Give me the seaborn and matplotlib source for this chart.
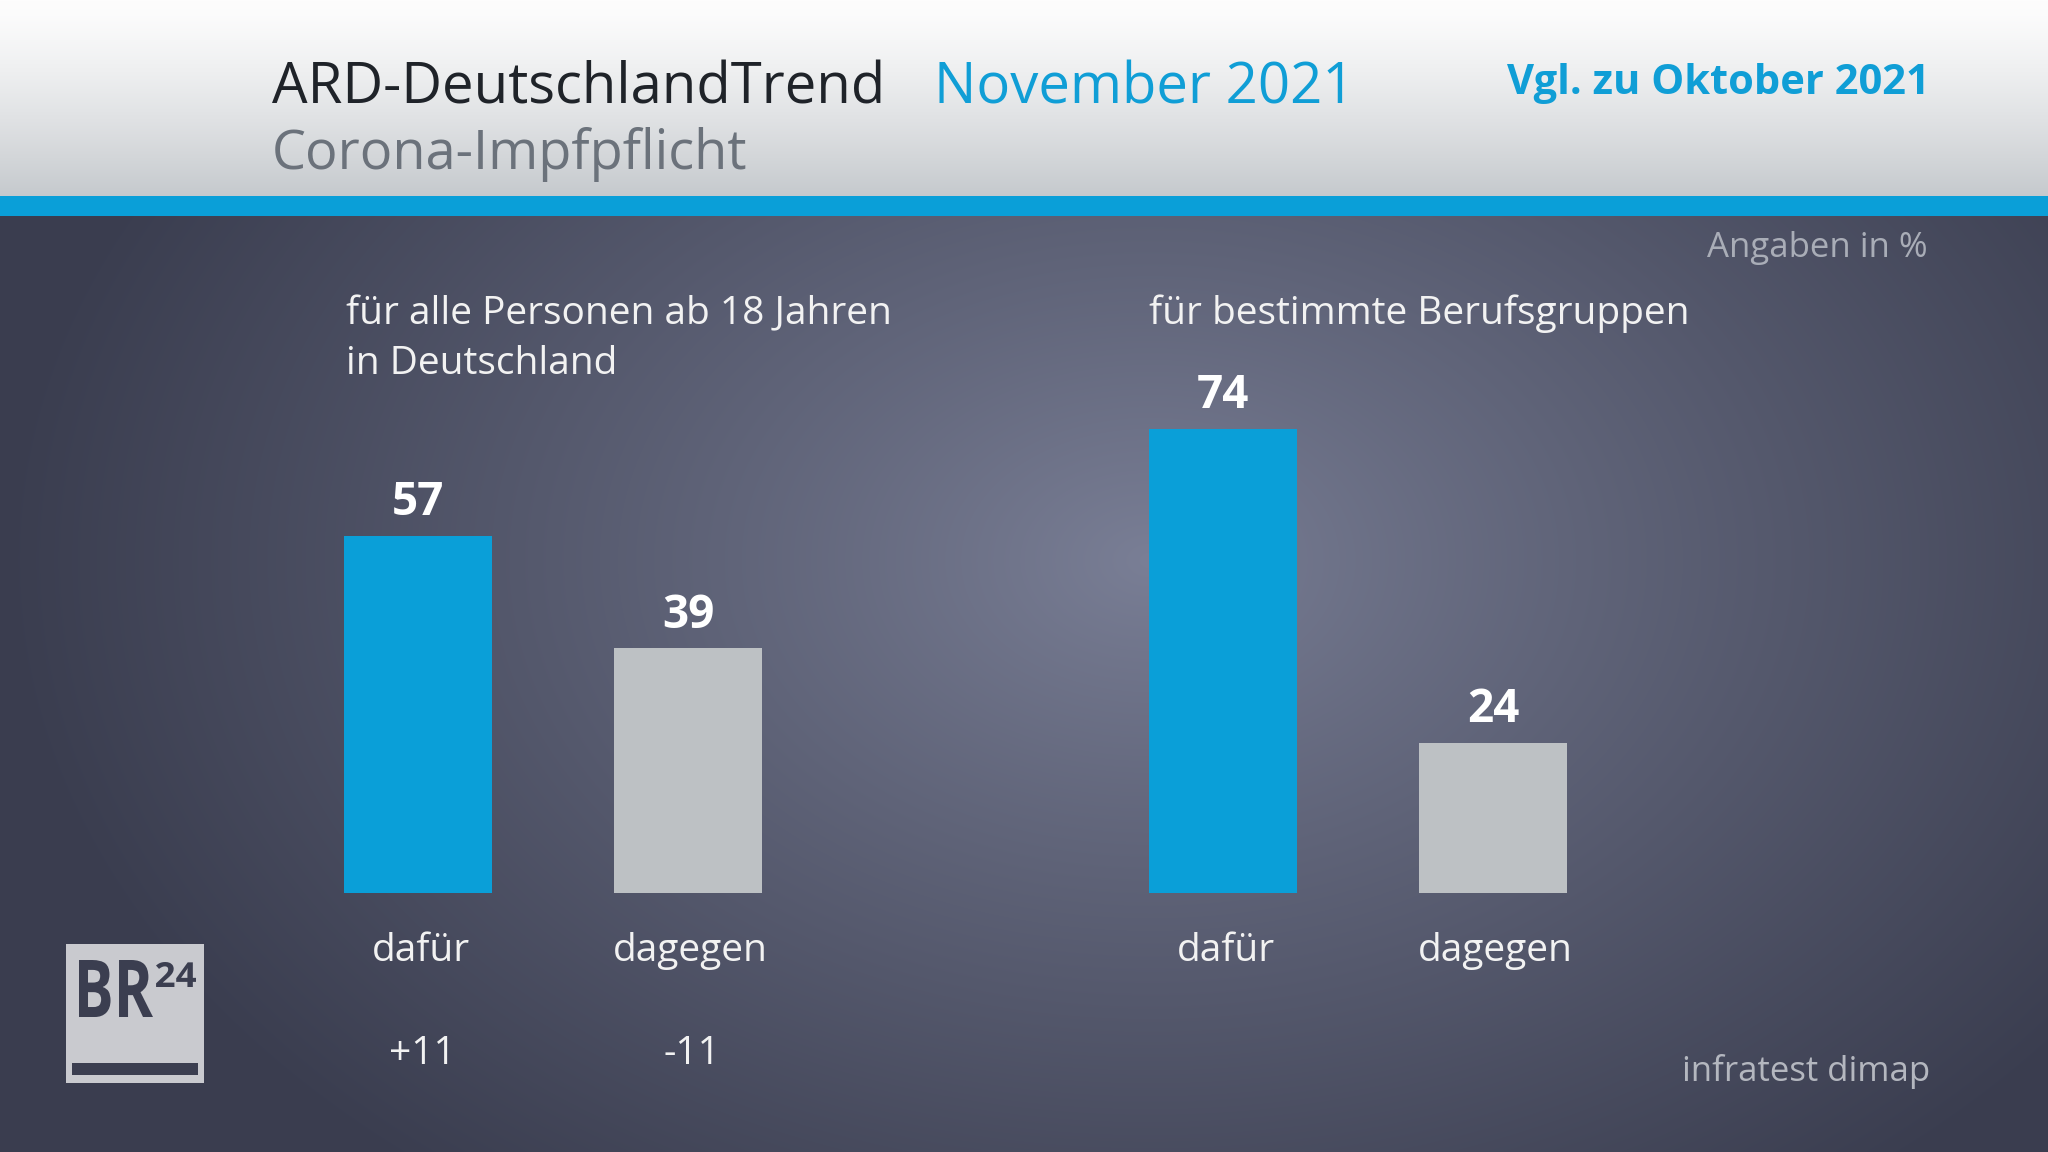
import numpy as np
import pandas as pd
import matplotlib
matplotlib.use("Agg")
import matplotlib.pyplot as plt
import seaborn as sns
from matplotlib.patches import Rectangle, PathPatch
from matplotlib.textpath import TextPath
from matplotlib.font_manager import FontProperties
from matplotlib.transforms import Affine2D

# Data
answers = ["dafür", "dagegen"]
all_adults = [57, 39]
occupations = [74, 24]
change_all = ["+11", "-11"]
group_titles = [["für alle Personen ab 18 Jahren", "in Deutschland"],
                ["für bestimmte Berufsgruppen"]]

BLUE = "#0a9fd8"
GRAY = "#bdc1c4"
W, H = 2048, 1152

sns.set_style("white")
plt.rcParams["font.family"] = ["Open Sans", "DejaVu Sans"]

fig = plt.figure(figsize=(W / 100, H / 100), dpi=100)

# background: radial gradient + header gradient
yy, xx = np.mgrid[0:H, 0:W]
d = np.sqrt(((xx - 1150) / 1150.0) ** 2 + ((yy - 560) / 800.0) ** 2)
t = np.clip(d, 0, 1) ** 0.9
center = np.array([122, 127, 150]) / 255
edge = np.array([58, 61, 79]) / 255
img = center + (edge - center) * t[..., None]
s = np.clip(yy / 196.0, 0, 1) ** 1.3
top = np.array([253, 253, 253]) / 255
bot = np.array([197, 201, 205]) / 255
head = top + (bot - top) * s[..., None]
img = np.where((yy < 196)[..., None], head, img)

bg = fig.add_axes([0, 0, 1, 1], zorder=-10)
bg.imshow(img, extent=[0, W, H, 0], aspect="auto", interpolation="bilinear")
bg.set_xlim(0, W)
bg.set_ylim(H, 0)
bg.axis("off")
bg.add_patch(Rectangle((0, 196), W, 20, color=BLUE, lw=0))

# header texts
bg.text(272, 104, "ARD-DeutschlandTrend", fontsize=40.5, color="#1f2329", va="baseline")
bg.text(934, 104, "November 2021", fontsize=40.5, color="#109ed6", va="baseline")
bg.text(272, 169, "Corona-Impfpflicht", fontsize=39, color="#6b727b", va="baseline")
bg.text(1930, 94, "Vgl. zu Oktober 2021", fontsize=30, fontweight="bold",
        color="#109ed6", va="baseline", ha="right")
bg.text(1928, 257, "Angaben in %", fontsize=25, color="#a9adb7", va="baseline", ha="right")
bg.text(1930, 1081, "infratest dimap", fontsize=25, color="#b4b7bf", va="baseline", ha="right")

# group titles
bg.text(346, 324, group_titles[0][0], fontsize=28, color="#f2f2f2", va="baseline")
bg.text(346, 374, group_titles[0][1], fontsize=28, color="#f2f2f2", va="baseline")
bg.text(1149, 324, group_titles[1][0], fontsize=28, color="#f2f2f2", va="baseline")


def fit_text(txt, x0, x1, base, cap, color):
    # glyph outlines squeezed into a box (logo lettering)
    tp = TextPath((0, 0), txt, size=100, prop=FontProperties(family="Open Sans", weight="bold"))
    ext = tp.get_extents()
    sx = (x1 - x0) / ext.width
    sy = cap / ext.height
    tr = Affine2D().translate(-ext.x0, -ext.y0).scale(sx, -sy).translate(x0, base)
    bg.add_patch(PathPatch(tr.transform_path(tp), color=color, lw=0))


# BR24 logo
bg.add_patch(Rectangle((66, 944), 138, 139, color="#c9cacf", lw=0))
fit_text("BR", 79, 153, 1017, 57, "#3b3e50")
fit_text("24", 156, 196, 987, 25, "#3b3e50")
bg.add_patch(Rectangle((72, 1063), 126, 12, color="#3b3e50", lw=0))


def draw_group(left_px, values, changes=None):
    ax = fig.add_axes([left_px / W, 259 / H, 540 / W, 501.6 / H])
    df = pd.DataFrame({"answer": answers, "value": values})
    sns.barplot(data=df, x="answer", y="value", hue="answer",
                palette=[BLUE, GRAY], saturation=1, width=0.545,
                linewidth=0, edgecolor="none", legend=False, ax=ax)
    ax.set_xlim(-0.5, 1.5)
    ax.set_ylim(0, 80)
    ax.axis("off")
    for i, p in enumerate(ax.patches):
        cx = p.get_x() + p.get_width() / 2
        ax.annotate(f"{values[i]}", xy=(cx, p.get_height()), xytext=(0, 15),
                    textcoords="offset points", ha="center", va="baseline",
                    fontsize=33, fontweight="bold", color="white")
        ax.annotate(answers[i], xy=(cx, 0), xytext=(2, -49),
                    textcoords="offset points", ha="center", va="baseline",
                    fontsize=28, color="#f2f2f2", annotation_clip=False)
        if changes is not None:
            ax.annotate(changes[i], xy=(cx, 0), xytext=(3, -123),
                        textcoords="offset points", ha="center", va="baseline",
                        fontsize=28, color="#f2f2f2", annotation_clip=False)
    return ax


draw_group(283, all_adults, change_all)
draw_group(1088, occupations)

fig.savefig("out.png", dpi=100)
